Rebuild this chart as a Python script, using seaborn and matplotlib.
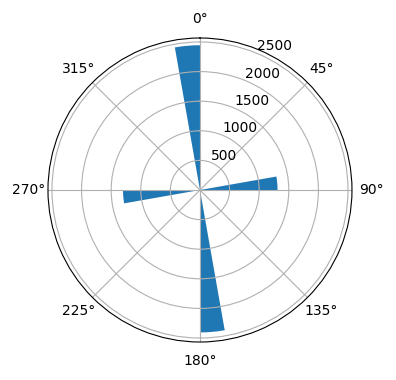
import numpy as np
import matplotlib
matplotlib.use("Agg")
import matplotlib.pyplot as plt
import seaborn as sns

# Data (angles in degrees, bar start edges; heights)
angles_deg = [350, 80, 170, 260]
heights = [2445, 1310, 2405, 1300]
bar_width_deg = 10

color = sns.color_palette("tab10")[0]

fig = plt.figure(figsize=(3.96, 3.80), dpi=100)
ax = fig.add_subplot(111, projection="polar")
ax.set_theta_zero_location("N")
ax.set_theta_direction(-1)
ax.bar(np.deg2rad(angles_deg), heights, width=np.deg2rad(bar_width_deg),
       align="edge", color=color)
ax.set_rlabel_position(22.5)
fig.subplots_adjust(left=0.08, right=0.93, top=0.9, bottom=0.1)
fig.savefig("out.png", dpi=100)
